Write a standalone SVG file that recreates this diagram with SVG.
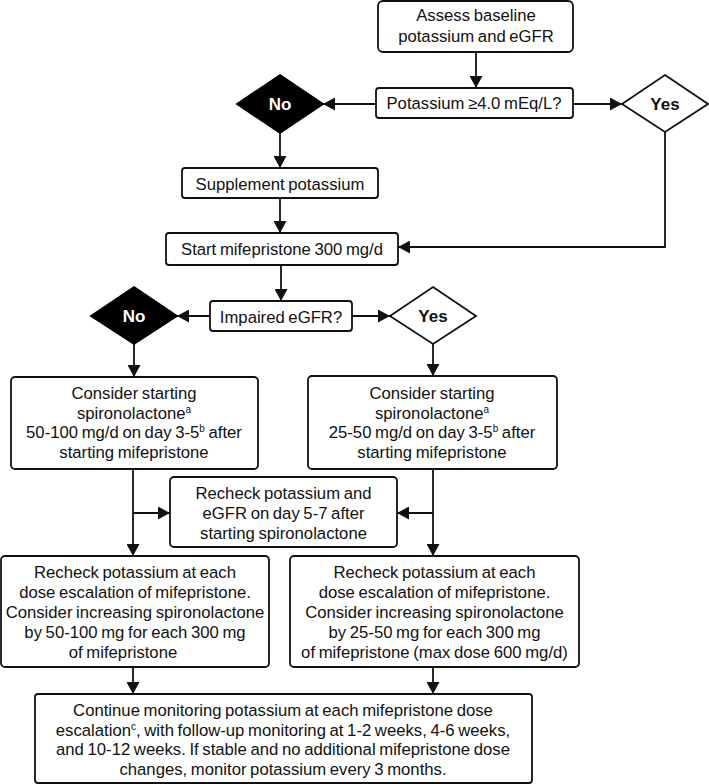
<svg xmlns="http://www.w3.org/2000/svg" width="709" height="784" viewBox="0 0 709 784">
<style>
.box{fill:#fff;stroke:#111;stroke-width:1.8}
.dw{fill:#fff;stroke:#111;stroke-width:1.8}
.db{fill:#000;stroke:#000;stroke-width:1.8}
.t{font-family:"Liberation Sans",Arial,sans-serif;font-size:16.7px;fill:#111;text-anchor:middle;word-spacing:-1px}
.yb{font-family:"Liberation Sans",Arial,sans-serif;font-size:17px;font-weight:bold;fill:#111;text-anchor:middle}
.nb{font-family:"Liberation Sans",Arial,sans-serif;font-size:17px;font-weight:bold;fill:#fff;text-anchor:middle}
.sup{font-size:10px}
.c{fill:none;stroke:#111;stroke-width:1.8}
</style>
<defs>
<marker id="ah" markerUnits="userSpaceOnUse" markerWidth="12" markerHeight="13" refX="12" refY="6.5" orient="auto">
<path d="M0,0 L12,6.5 L0,13 z" fill="#111"/>
</marker>
</defs>
<rect width="709" height="784" fill="#fff"/>
<g id="connectors">
<line class="c" x1="476" y1="52" x2="476" y2="88" marker-end="url(#ah)"/>
<line class="c" x1="376" y1="104" x2="323" y2="104" marker-end="url(#ah)"/>
<line class="c" x1="573" y1="104" x2="622" y2="104" marker-end="url(#ah)"/>
<line class="c" x1="280" y1="133" x2="280" y2="168" marker-end="url(#ah)"/>
<line class="c" x1="280" y1="198" x2="280" y2="233" marker-end="url(#ah)"/>
<polyline class="c" points="665,132 665,247 398,247" marker-end="url(#ah)"/>
<line class="c" x1="281" y1="265" x2="281" y2="301" marker-end="url(#ah)"/>
<line class="c" x1="210" y1="316" x2="177" y2="316" marker-end="url(#ah)"/>
<line class="c" x1="352" y1="316" x2="390" y2="316" marker-end="url(#ah)"/>
<line class="c" x1="134" y1="344" x2="134" y2="377" marker-end="url(#ah)"/>
<line class="c" x1="433" y1="344" x2="433" y2="376" marker-end="url(#ah)"/>
<line class="c" x1="133" y1="469" x2="133" y2="556" marker-end="url(#ah)"/>
<line class="c" x1="133" y1="513" x2="170" y2="513" marker-end="url(#ah)"/>
<line class="c" x1="433" y1="469" x2="433" y2="556" marker-end="url(#ah)"/>
<line class="c" x1="433" y1="513" x2="397" y2="513" marker-end="url(#ah)"/>
<line class="c" x1="133" y1="667" x2="133" y2="694" marker-end="url(#ah)"/>
<line class="c" x1="433" y1="667" x2="433" y2="694" marker-end="url(#ah)"/>
</g>
<g id="assess">
<rect class="box" x="378" y="1" width="195" height="51" rx="5"/>
<text class="t" x="476" y="21">Assess baseline</text>
<text class="t" x="476" y="42">potassium and eGFR</text>
</g>
<g id="potassium-check">
<rect class="box" x="376" y="88" width="197" height="30" rx="3"/>
<text class="t" x="474" y="108.5">Potassium ≥4.0 mEq/L?</text>
</g>
<g id="no1">
<polygon class="db" points="280,75 323,104 280,133 237,104"/>
<text class="nb" x="280" y="110">No</text>
</g>
<g id="yes1">
<polygon class="dw" points="665,75 708,104 665,132 622,104"/>
<text class="yb" x="665" y="110">Yes</text>
</g>
<g id="supplement">
<rect class="box" x="182" y="168" width="196" height="30" rx="3"/>
<text class="t" x="280" y="189.5">Supplement potassium</text>
</g>
<g id="start">
<rect class="box" x="166" y="233" width="232" height="32" rx="3"/>
<text class="t" x="282" y="255">Start mifepristone 300 mg/d</text>
</g>
<g id="impaired">
<rect class="box" x="210" y="301" width="142" height="30" rx="3"/>
<text class="t" x="281" y="322.5">Impaired eGFR?</text>
</g>
<g id="no2">
<polygon class="db" points="134,287 177,316 134,344 91,316"/>
<text class="nb" x="134" y="322">No</text>
</g>
<g id="yes2">
<polygon class="dw" points="433,287 476,316 433,344 390,316"/>
<text class="yb" x="433" y="322">Yes</text>
</g>
<g id="left-start-spiro">
<rect class="box" x="11" y="377" width="247" height="92" rx="4"/>
<text class="t" x="134" y="398.5">Consider starting</text>
<text class="t" x="134" y="418.5">spironolactone<tspan class="sup" dy="-6">a</tspan></text>
<text class="t" x="134" y="438">50-100 mg/d on day 3-5<tspan class="sup" dy="-6">b</tspan><tspan dy="6"> after</tspan></text>
<text class="t" x="134" y="457.5">starting mifepristone</text>
</g>
<g id="right-start-spiro">
<rect class="box" x="308" y="376" width="249" height="93" rx="4"/>
<text class="t" x="432" y="398.5">Consider starting</text>
<text class="t" x="432" y="418.5">spironolactone<tspan class="sup" dy="-6">a</tspan></text>
<text class="t" x="432" y="438">25-50 mg/d on day 3-5<tspan class="sup" dy="-6">b</tspan><tspan dy="6"> after</tspan></text>
<text class="t" x="432" y="457.5">starting mifepristone</text>
</g>
<g id="recheck-middle">
<rect class="box" x="170" y="477" width="227" height="70" rx="4"/>
<text class="t" x="283.5" y="499">Recheck potassium and</text>
<text class="t" x="283.5" y="519">eGFR on day 5-7 after</text>
<text class="t" x="283.5" y="538.5">starting spironolactone</text>
</g>
<g id="left-recheck">
<rect class="box" x="1" y="556" width="268" height="111" rx="4"/>
<text class="t" x="135" y="578.3">Recheck potassium at each</text>
<text class="t" x="135" y="598.3">dose escalation of mifepristone.</text>
<text class="t" x="135" y="618.3">Consider increasing spironolactone</text>
<text class="t" x="135" y="638.3">by 50-100 mg for each 300 mg</text>
<text class="t" x="123" y="658.3">of mifepristone</text>
</g>
<g id="right-recheck">
<rect class="box" x="290" y="556" width="289" height="111" rx="4"/>
<text class="t" x="434.5" y="578.3">Recheck potassium at each</text>
<text class="t" x="434.5" y="598.3">dose escalation of mifepristone.</text>
<text class="t" x="434.5" y="618.3">Consider increasing spironolactone</text>
<text class="t" x="434.5" y="638.3">by 25-50 mg for each 300 mg</text>
<text class="t" x="434.5" y="658.3">of mifepristone (max dose 600 mg/d)</text>
</g>
<g id="continue">
<rect class="box" x="35" y="694" width="497" height="89" rx="3"/>
<text class="t" x="283" y="716">Continue monitoring potassium at each mifepristone dose</text>
<text class="t" x="283" y="735.7">escalation<tspan class="sup" dy="-6">c</tspan><tspan dy="6">, with follow-up monitoring at 1-2 weeks, 4-6 weeks,</tspan></text>
<text class="t" x="283" y="755.3">and 10-12 weeks. If stable and no additional mifepristone dose</text>
<text class="t" x="283" y="775">changes, monitor potassium every 3 months.</text>
</g>
</svg>
